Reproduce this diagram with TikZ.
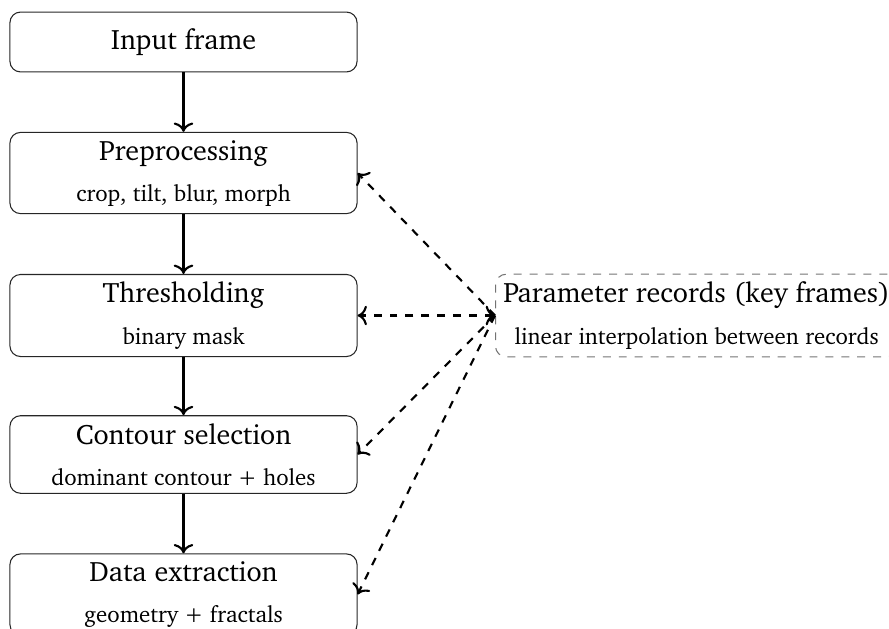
\documentclass[tikz,border=0pt]{standalone}
\usepackage[T1]{fontenc}
\usepackage{charter}
\usetikzlibrary{arrows.meta}
\newcommand\mainsize{\fontsize{10.6}{12.7}\selectfont}
\newcommand\subsize{\fontsize{8.65}{10.4}\selectfont}
\begin{document}
\begin{tikzpicture}[x=0.3774pt, y=-0.3774pt,
  stagebox/.style={draw=black!85, rounded corners=4pt, align=center, minimum width=131pt, minimum height=22.6pt, inner sep=2.9pt, font=\mainsize},
  parambox/.style={draw=black!55, dashed, rounded corners=4pt, align=center, inner sep=3pt, minimum height=30.5pt, font=\mainsize},
  flow/.style={-{To[scale=1.05]}, thick},
  link/.style={-{To[scale=1.05]}, thick, dashed}]
\useasboundingbox (0,0) rectangle (889,628);
\node[stagebox] (in) at (183.5,42) {Input frame};
\node[stagebox] (pre) at (183.5,173) {Preprocessing\\[2.8pt]\subsize crop, tilt, blur, morph};
\node[stagebox] (thr) at (183.5,315.5) {Thresholding\\[2.8pt]\subsize binary mask};
\node[stagebox] (con) at (183.5,454.5) {Contour selection\\[2.8pt]\subsize dominant contour + holes};
\node[stagebox] (dat) at (183.5,594.5) {Data extraction\\[2.8pt]\subsize geometry + fractals};
\node[parambox, anchor=west] (par) at (495,315.5) {Parameter records (key frames)\\[2.8pt]\subsize linear interpolation between records};
\draw[flow] (in) -- (pre);
\draw[flow] (pre) -- (thr);
\draw[flow] (thr) -- (con);
\draw[flow] (con) -- (dat);
\draw[link] (par.west) -- (pre.east);
\draw[link, {To[scale=1.05]}-{To[scale=1.05]}] (par.west) -- (thr.east);
\draw[link] (par.west) -- (con.east);
\draw[link] (par.west) -- (dat.east);
\end{tikzpicture}
\end{document}
